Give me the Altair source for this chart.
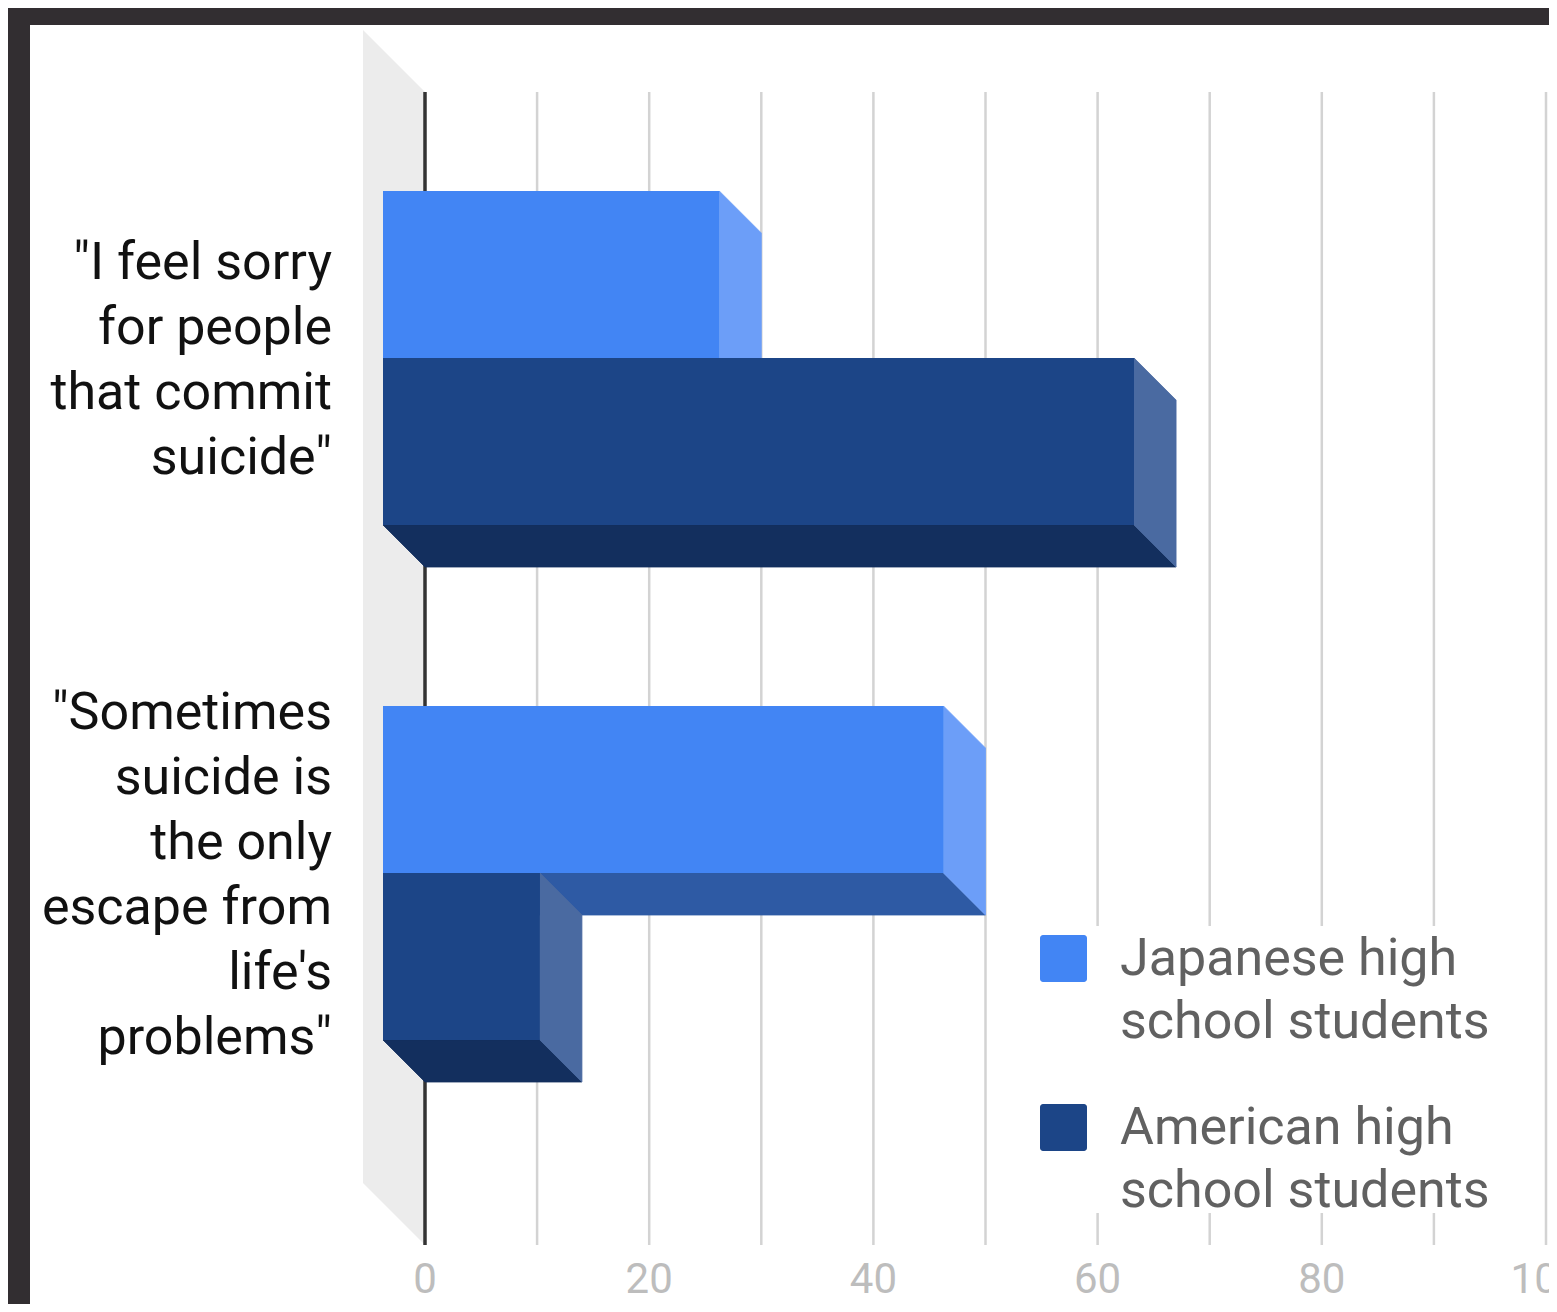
import altair as alt
import pandas as pd

# ---------------- data ----------------
category_lines = [
    ['"I feel sorry', 'for people', 'that commit', 'suicide"'],
    ['"Sometimes', 'suicide is', 'the only', 'escape from', "life's", 'problems"'],
]
series = ["Japanese high school students", "American high school students"]
series_lines = [["Japanese high", "school students"], ["American high", "school students"]]
japanese = [30, 50]
american = [67, 14]
tick_values = [0, 20, 40, 60, 80, 100]
grid_values = [10, 20, 30, 40, 50, 60, 70, 80, 90, 100]

# ---------------- style / layout ----------------
PLOT_W, PLOT_H = 1519, 1279
X0, X1 = 395, 1516                 # pixel of value 0 and 100 inside the plot
PX_PER_UNIT = (X1 - X0) / 100
DEPTH = 42                         # 3D depth of bars (px)
DU = DEPTH / PX_PER_UNIT
BACK_TOP0 = 208                    # back-face top of the first bar
GROUP_STEP = 515
BAR_H = 167
WALL_TOP, WALL_BOT = 67, 1220
FLOOR_DEPTH = 62
FDU = FLOOR_DEPTH / PX_PER_UNIT
FONT = "Roboto"

front_colors = ["#4285f4", "#1c4587"]
side_colors = ["#6c9ef8", "#4a6aa1"]
bottom_colors = ["#2e5aa4", "#132f5e"]

xs = alt.Scale(domain=[-X0 / PX_PER_UNIT, (PLOT_W - X0) / PX_PER_UNIT], nice=False, zero=False)
ys = alt.Scale(domain=[0, PLOT_H], reverse=True, nice=False, zero=False)
cs = alt.Scale(domain=series, range=front_colors)

values = [japanese, american]

front_rows, side_rows, bottom_rows = [], [], []
for g in range(len(category_lines)):
    for s, name in enumerate(series):
        v = values[s][g]
        bid = f"{g}-{s}"
        bt = BACK_TOP0 + g * GROUP_STEP + s * BAR_H
        bb = bt + BAR_H
        front_rows.append(dict(id=bid, series=name, x=-DU, x2=v - DU, y=bt - DEPTH, y2=bb - DEPTH))
        side_rows.append(dict(id=bid, s=s, x=v - DU, y=bt - DEPTH, y2=bb - DEPTH))
        side_rows.append(dict(id=bid, s=s, x=v, y=bt, y2=bb))
        bottom_rows.append(dict(id=bid, s=s, y=bb - DEPTH, x=-DU, x2=v - DU))
        bottom_rows.append(dict(id=bid, s=s, y=bb, x=0.0, x2=float(v)))

front_df = pd.DataFrame(front_rows)
side_df = pd.DataFrame(side_rows)
bottom_df = pd.DataFrame(bottom_rows)

floor_df = pd.DataFrame([
    dict(x=-FDU, y=WALL_TOP - FLOOR_DEPTH, y2=WALL_BOT - FLOOR_DEPTH),
    dict(x=0.0, y=WALL_TOP, y2=WALL_BOT),
])
grid_df = pd.DataFrame(dict(x=grid_values, y=WALL_TOP, y2=WALL_BOT))
axis_df = pd.DataFrame(dict(x=[0], y=[WALL_TOP], y2=[WALL_BOT]))

label_rows = []
for g, lines in enumerate(category_lines):
    center = BACK_TOP0 - DEPTH + g * GROUP_STEP + BAR_H
    n = len(lines)
    for j, t in enumerate(lines):
        label_rows.append(dict(text=t, y=center + 18 + (j - (n - 1) / 2) * 65))
label_df = pd.DataFrame(label_rows)

tick_df = pd.DataFrame(dict(x=tick_values, label=[str(t) for t in tick_values]))

LEG_TOP, LEG_STEP, LEG_BASE, LEG_LH = 910, 169, 950, 63
leg_sym_df = pd.DataFrame(dict(series=series,
                               y=[LEG_TOP + i * LEG_STEP for i in range(len(series))],
                               y2=[LEG_TOP + i * LEG_STEP + 47 for i in range(len(series))]))
leg_txt_rows = []
for i, lines in enumerate(series_lines):
    for j, t in enumerate(lines):
        leg_txt_rows.append(dict(text=t, y=LEG_BASE + i * LEG_STEP + j * LEG_LH))
leg_txt_df = pd.DataFrame(leg_txt_rows)

X = lambda f="x": alt.X(f"{f}:Q", scale=xs, axis=None, stack=None)
Y = lambda f="y": alt.Y(f"{f}:Q", scale=ys, axis=None, stack=None)

layers = []
layers.append(alt.Chart(floor_df).mark_area(orient="vertical", color="#ececec").encode(
    x=X(), y=Y(), y2="y2:Q"))
layers.append(alt.Chart(grid_df).mark_rule(color="#d3d3d3", strokeWidth=2.5).encode(
    x=X(), y=Y(), y2="y2:Q"))
layers.append(alt.Chart(axis_df).mark_rule(color="#333333", strokeWidth=3.5).encode(
    x=X(), y=Y(), y2="y2:Q"))
for s in range(len(series)):
    layers.append(alt.Chart(bottom_df[bottom_df.s == s]).mark_area(
        orient="horizontal", color=bottom_colors[s], stroke=bottom_colors[s], strokeWidth=0.8).encode(
        y=Y(), x=X(), x2="x2:Q", detail="id:N"))
for s in range(len(series)):
    layers.append(alt.Chart(side_df[side_df.s == s]).mark_area(
        orient="vertical", color=side_colors[s], stroke=side_colors[s], strokeWidth=0.8).encode(
        x=X(), y=Y(), y2="y2:Q", detail="id:N"))
layers.append(alt.Chart(front_df).mark_rect().encode(
    x=X(), x2="x2:Q", y=Y(), y2="y2:Q",
    color=alt.Color("series:N", scale=cs, legend=None)))
layers.append(alt.Chart(label_df).mark_text(
    align="right", baseline="alphabetic", font=FONT, fontSize=52, color="#111111").encode(
    x=alt.value(302), y=Y(), text="text:N"))
layers.append(alt.Chart(tick_df).mark_text(
    align="center", baseline="alphabetic", font=FONT, fontSize=42, color="#bdbdbd").encode(
    x=X(), y=alt.value(1268), text="label:N"))
layers.append(alt.Chart(pd.DataFrame(dict(a=[0]))).mark_rect(color="white").encode(
    x=alt.value(1000), x2=alt.value(1482), y=alt.value(901), y2=alt.value(1188)))
layers.append(alt.Chart(leg_sym_df).mark_rect(cornerRadius=3).encode(
    x=alt.value(1010), x2=alt.value(1057), y=Y(), y2="y2:Q",
    color=alt.Color("series:N", scale=cs, legend=None)))
layers.append(alt.Chart(leg_txt_df).mark_text(
    align="left", baseline="alphabetic", font=FONT, fontSize=52, color="#616161").encode(
    x=alt.value(1090), y=Y(), text="text:N"))

chart = alt.layer(*layers).properties(
    width=PLOT_W, height=PLOT_H,
    padding={"left": 22, "top": 17, "right": 0, "bottom": 0},
    autosize=alt.AutoSizeParams(type="none"),
    background="#322e31",
).configure_view(fill="white", stroke=None)

chart.save("out.html", embed_options={"renderer": "svg", "actions": False})
